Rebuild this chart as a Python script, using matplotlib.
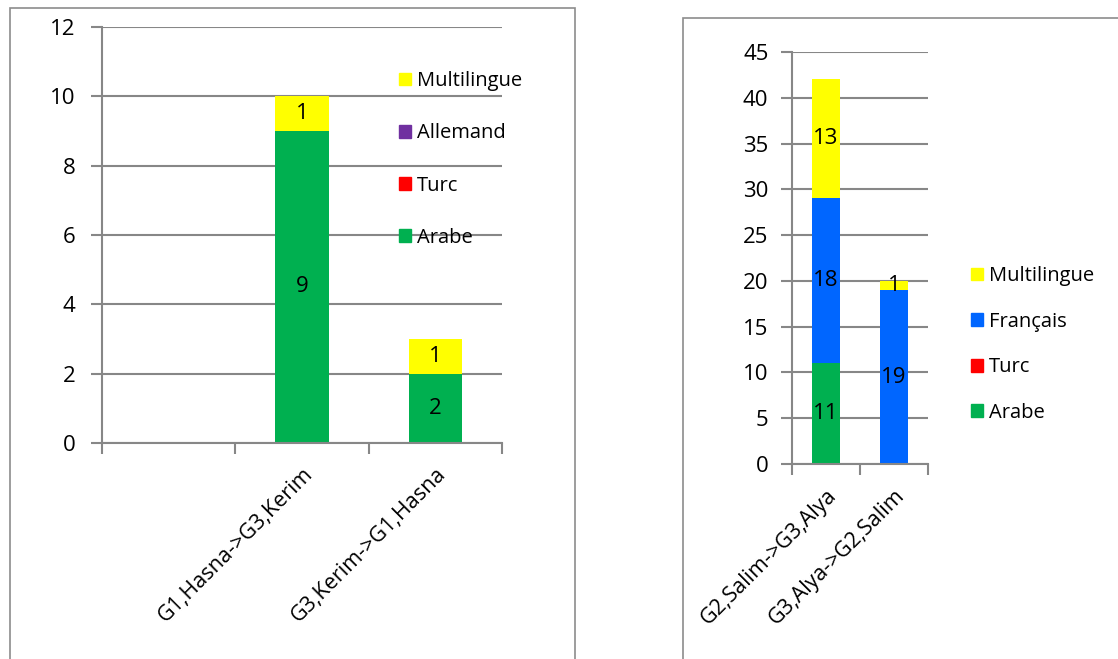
import matplotlib.pyplot as plt
from matplotlib.patches import Rectangle, Patch

plt.rcParams['font.family'] = ['Open Sans', 'DejaVu Sans']

# left chart data
cats_left = ["", "G1,Hasna->G3,Kerim", "G3,Kerim->G1,Hasna"]
arabe_left = [0, 9, 2]
turc_left = [0, 0, 0]
allemand_left = [0, 0, 0]
multi_left = [0, 1, 1]

# right chart data
cats_right = ["G2,Salim->G3,Alya", "G3,Alya->G2,Salim"]
arabe_right = [11, 0]
turc_right = [0, 0]
francais_right = [18, 19]
multi_right = [13, 1]

GREEN = "#00B050"
RED = "#FF0000"
PURPLE = "#7030A0"
BLUE = "#0066FF"
YELLOW = "#FFFF00"
GRID = "#878787"

W, H = 1118, 659
fig = plt.figure(figsize=(W / 100, H / 100), dpi=100)


def px_axes(left, right, top, bottom):
    return fig.add_axes([left / W, 1 - bottom / H, (right - left) / W, (bottom - top) / H])


def style(ax, cats, ymax, ystep, ypad):
    n = len(cats)
    ax.set_xlim(-0.5, n - 0.5)
    ax.set_ylim(0, ymax)
    ax.set_yticks(range(0, ymax + 1, ystep))
    ax.set_xticks([i - 0.5 for i in range(n + 1)])
    ax.set_xticklabels([])
    ax.set_xticks(range(n), minor=True)
    ax.set_xticklabels(cats, minor=True, rotation=45, ha="right",
                       rotation_mode="anchor", fontsize=15.5)
    ax.tick_params(axis="x", which="minor", length=0, pad=15)
    ax.tick_params(axis="x", which="major", length=8, color=GRID, width=1.5)
    ax.tick_params(axis="y", length=8, color=GRID, width=1.5, labelsize=16, pad=ypad)
    ax.grid(axis="y", color=GRID, linewidth=1.5)
    ax.set_axisbelow(True)
    for s in ["top", "right"]:
        ax.spines[s].set_visible(False)
    for s in ["left", "bottom"]:
        ax.spines[s].set_color(GRID)
        ax.spines[s].set_linewidth(1.5)


def stack(ax, series, colors):
    x = range(len(series[0]))
    bottom = [0] * len(series[0])
    for vals, col in zip(series, colors):
        bars = ax.bar(x, vals, 0.4, bottom=bottom, color=col, zorder=2)
        for b, v, b0 in zip(bars, vals, bottom):
            if v:
                ax.text(b.get_x() + b.get_width() / 2, b0 + v / 2, str(v),
                        ha="center", va="center", fontsize=16, zorder=3)
        bottom = [a + b for a, b in zip(bottom, vals)]


# frames
fig.add_artist(Rectangle((10 / W, -0.05), 565 / W, 1.05 - 8 / H, transform=fig.transFigure,
                         fill=False, edgecolor="#8c8c8c", linewidth=1.2))
fig.add_artist(Rectangle((683 / W, -0.05), 500 / W, 1.05 - 18 / H, transform=fig.transFigure,
                         fill=False, edgecolor="#8c8c8c", linewidth=1.2))

# left chart
ax1 = px_axes(102, 502, 27, 443)
style(ax1, cats_left, 12, 2, 11)
stack(ax1, [arabe_left, turc_left, allemand_left, multi_left], [GREEN, RED, PURPLE, YELLOW])
h1 = [Patch(color=c) for c in [YELLOW, PURPLE, RED, GREEN]]
fig.legend(h1, ["Multilingue", "Allemand", "Turc", "Arabe"], loc="upper left",
           bbox_to_anchor=(389 / W, 1 - 61 / H), frameon=False, fontsize=14.5,
           handlelength=0.6, handleheight=0.6, handletextpad=0.3,
           labelspacing=1.6, borderpad=0)

# right chart
ax2 = px_axes(792, 928, 52, 464)
style(ax2, cats_right, 45, 5, 9)
stack(ax2, [arabe_right, turc_right, francais_right, multi_right], [GREEN, RED, BLUE, YELLOW])
h2 = [Patch(color=c) for c in [YELLOW, BLUE, RED, GREEN]]
fig.legend(h2, ["Multilingue", "Français", "Turc", "Arabe"], loc="upper left",
           bbox_to_anchor=(961 / W, 1 - 256 / H), frameon=False, fontsize=14.5,
           handlelength=0.6, handleheight=0.6, handletextpad=0.3,
           labelspacing=1.27, borderpad=0)

fig.savefig("out.png", dpi=100)
